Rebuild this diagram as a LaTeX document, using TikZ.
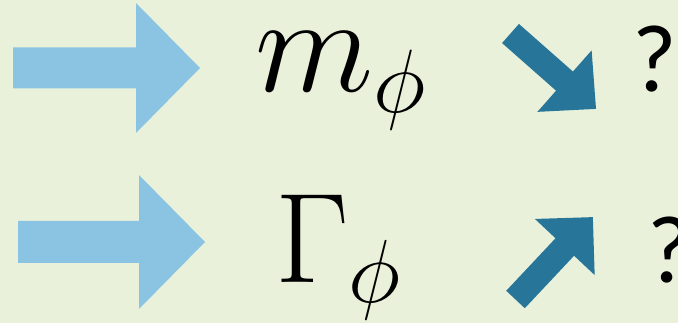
\RequirePackage{fix-cm}
\documentclass[tikz,border=0pt]{standalone}
\usepackage[no-math]{fontspec}
\usepackage{tikz}
\newfontfamily\qfont{Carlito}
\definecolor{bgcol}{HTML}{E9F1DB}
\definecolor{lightarrow}{HTML}{8BC4E2}
\definecolor{darkarrow}{HTML}{27769A}

\begin{document}
\begin{tikzpicture}[
  x=1pt, y=-1pt,
  bigsym/.style={anchor=base west, inner sep=0pt, font=\fontsize{128}{150}\selectfont},
  qmark/.style={anchor=base west, inner sep=0pt, font=\qfont\fontsize{96}{110}\selectfont},
  feed/.style={fill=lightarrow},
  trend/.style={fill=darkarrow},
]
  \fill[bgcol] (0,0) rectangle (678,323);
  \useasboundingbox (0,0) rectangle (678,323);

  % input arrows
  \fill[feed] (13,47.5) -- (136,47.5) -- (136,3) -- (200,68) -- (136,133)
    -- (136,88.5) -- (13,88.5) -- cycle;
  \fill[feed] (18,221) -- (139,221) -- (139,175) -- (205,242) -- (139,309)
    -- (139,263) -- (18,263) -- cycle;

  \node[bigsym, font=\fontsize{138}{160}\selectfont] (mass) at (255,92)
    {$m_{\mbox{\fontsize{90}{100}\selectfont$\phi$}}$};
  \node[bigsym] (width) at (275,283) {$\Gamma_\phi$};

  % trend arrows
  \fill[trend, shift={(510.5,33.5)}, rotate=-41.4]
    (0,-12.75) -- (72,-12.75) -- (72,-41) -- (114,0) -- (72,41)
    -- (72,12.75) -- (0,12.75) -- cycle;
  \fill[trend, shift={(515.5,299.5)}, rotate=46.8]
    (0,-12.75) -- (72,-12.75) -- (72,-41) -- (113,0) -- (72,41)
    -- (72,12.75) -- (0,12.75) -- cycle;

  \node[qmark] (qmass) at (632,92) {?};
  \node[qmark] (qwidth) at (647,283) {?};
\end{tikzpicture}
\end{document}
